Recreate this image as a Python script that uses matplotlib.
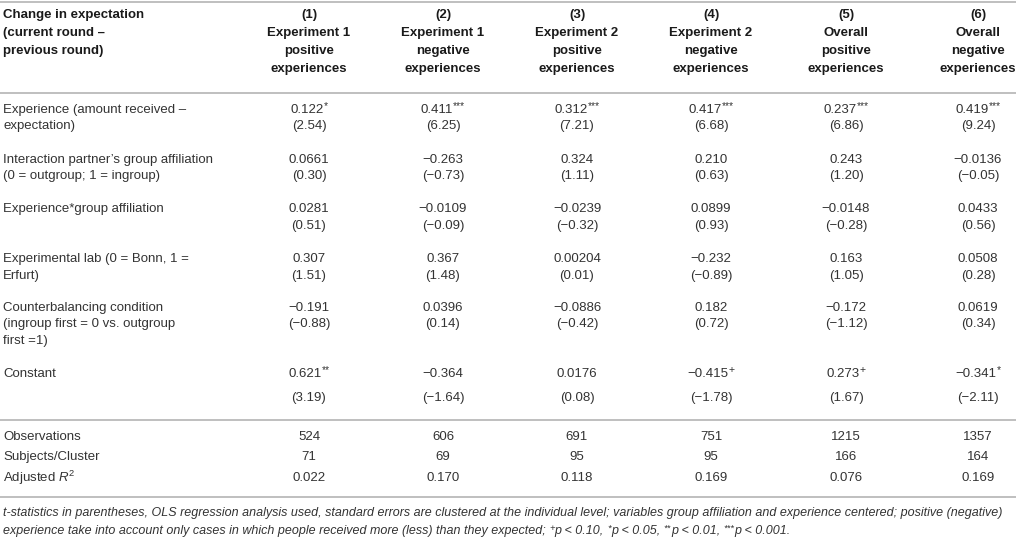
import matplotlib
matplotlib.use("Agg")
import matplotlib.pyplot as plt

plt.rcParams['font.family'] = ['Liberation Sans', 'DejaVu Sans']
plt.rcParams['mathtext.fontset'] = 'custom'
plt.rcParams['mathtext.rm'] = 'Liberation Sans'
plt.rcParams['mathtext.it'] = 'Liberation Sans:italic'
plt.rcParams['mathtext.bf'] = 'Liberation Sans:bold'

# ---------------- data ----------------
corner_header = ["Change in expectation", "(current round \u2013", "previous round)"]
model_numbers = ["(1)", "(2)", "(3)", "(4)", "(5)", "(6)"]
model_samples = ["Experiment 1", "Experiment 1", "Experiment 2", "Experiment 2", "Overall", "Overall"]
model_signs = ["positive", "negative", "positive", "negative", "positive", "negative"]
model_unit = "experiences"

row_labels = [
    ["Experience (amount received \u2013", "expectation)"],
    ["Interaction partner\u2019s group affiliation", "(0 = outgroup; 1 = ingroup)"],
    ["Experience*group affiliation"],
    ["Experimental lab (0 = Bonn, 1 =", "Erfurt)"],
    ["Counterbalancing condition", "(ingroup first = 0 vs. outgroup", "first =1)"],
    ["Constant"],
]

coef_m1 = ["0.122", "0.0661", "0.0281", "0.307", "-0.191", "0.621"]
coef_m2 = ["0.411", "-0.263", "-0.0109", "0.367", "0.0396", "-0.364"]
coef_m3 = ["0.312", "0.324", "-0.0239", "0.00204", "-0.0886", "0.0176"]
coef_m4 = ["0.417", "0.210", "0.0899", "-0.232", "0.182", "-0.415"]
coef_m5 = ["0.237", "0.243", "-0.0148", "0.163", "-0.172", "0.273"]
coef_m6 = ["0.419", "-0.0136", "0.0433", "0.0508", "0.0619", "-0.341"]

stars_m1 = ["*", "", "", "", "", "**"]
stars_m2 = ["***", "", "", "", "", ""]
stars_m3 = ["***", "", "", "", "", ""]
stars_m4 = ["***", "", "", "", "", "+"]
stars_m5 = ["***", "", "", "", "", "+"]
stars_m6 = ["***", "", "", "", "", "*"]

tstat_m1 = ["2.54", "0.30", "0.51", "1.51", "-0.88", "3.19"]
tstat_m2 = ["6.25", "-0.73", "-0.09", "1.48", "0.14", "-1.64"]
tstat_m3 = ["7.21", "1.11", "-0.32", "0.01", "-0.42", "0.08"]
tstat_m4 = ["6.68", "0.63", "0.93", "-0.89", "0.72", "-1.78"]
tstat_m5 = ["6.86", "1.20", "-0.28", "1.05", "-1.12", "1.67"]
tstat_m6 = ["9.24", "-0.05", "0.56", "0.28", "0.34", "-2.11"]

stat_labels = ["Observations", "Subjects/Cluster", "Adjusted $R^{2}$"]
observations = ["524", "606", "691", "751", "1215", "1357"]
subjects = ["71", "69", "95", "95", "166", "164"]
adj_r2 = ["0.022", "0.170", "0.118", "0.169", "0.076", "0.169"]

footnote_line1 = ("t-statistics in parentheses, OLS regression analysis used, standard errors are clustered "
                  "at the individual level; variables group affiliation and experience centered; positive (negative)")
footnote_line2 = [
    ("experience take into account only cases in which people received more (less) than they expected; ", False),
    ("+", True), ("p < 0.10, ", False),
    ("*", True), ("p < 0.05, ", False),
    ("**", True), ("p < 0.01, ", False),
    ("***", True), ("p < 0.001.", False),
]

# ---------------- layout ----------------
W, H = 1016, 545
col_x = [309, 443, 577, 711, 846, 978]
label_x = 3
header_y = [15, 33, 51, 69]
row_y = [110, 160, 209, 259, 308, 374]
line_pitch = 16.5
const_t_offset = 24
stat_y = [437, 457, 478]
rule_y = [2, 93, 420, 497]
foot_y = [513, 531]

FS = 9.5
FOOT_FS = 9.0
body_c = "#333333"
head_c = "#1a1a1a"
rule_c = "#b4b4b4"

fig = plt.figure(figsize=(W / 100, H / 100), dpi=100)
ax = fig.add_axes([0, 0, 1, 1])
ax.set_xlim(0, W)
ax.set_ylim(H, 0)
ax.axis("off")
renderer = fig.canvas.get_renderer()


def minus(s):
    return s.replace("-", "\u2212")


def text_width(s, **kw):
    # robust width incl. leading/trailing spaces
    a = ax.text(0, 0, "X" + s + "X", **kw)
    b = ax.text(0, 0, "XX", **kw)
    w = a.get_window_extent(renderer).width - b.get_window_extent(renderer).width
    a.remove()
    b.remove()
    return w


def draw_runs(x, y, runs, fs, align="left", sup_scale=0.72, sup_rise=4.0, **kw):
    widths = []
    for s, sup in runs:
        widths.append(text_width(s, fontsize=fs * (sup_scale if sup else 1.0), **kw))
    total = sum(widths)
    cx = x - total / 2 if align == "center" else x
    for (s, sup), w in zip(runs, widths):
        size = fs * (sup_scale if sup else 1.0)
        yy = y - sup_rise if sup else y
        ax.text(cx, yy, s, fontsize=size, ha="left", va="center", **kw)
        cx += w


for y in rule_y:
    ax.plot([0, W], [y, y], color=rule_c, lw=1.2, solid_capstyle="butt")

for i, line in enumerate(corner_header):
    ax.text(label_x, header_y[i], line, fontsize=FS, fontweight="bold", color=head_c,
            ha="left", va="center")

for j, x in enumerate(col_x):
    for i, line in enumerate([model_numbers[j], model_samples[j], model_signs[j], model_unit]):
        ax.text(x, header_y[i], line, fontsize=FS, fontweight="bold", color=head_c,
                ha="center", va="center")

coefs = [coef_m1, coef_m2, coef_m3, coef_m4, coef_m5, coef_m6]
stars = [stars_m1, stars_m2, stars_m3, stars_m4, stars_m5, stars_m6]
tstats = [tstat_m1, tstat_m2, tstat_m3, tstat_m4, tstat_m5, tstat_m6]

for r, lab in enumerate(row_labels):
    for k, line in enumerate(lab):
        ax.text(label_x, row_y[r] + k * line_pitch, line, fontsize=FS, color=body_c,
                ha="left", va="center")
    t_off = const_t_offset if r == len(row_labels) - 1 else line_pitch
    for j, x in enumerate(col_x):
        s = minus(coefs[j][r])
        st = stars[j][r]
        if st:
            scale = 0.8 if st == "+" else 0.78
            draw_runs(x, row_y[r], [(s, False), (st, True)], FS, align="center",
                      sup_scale=scale, sup_rise=3.5, color=body_c)
        else:
            ax.text(x, row_y[r], s, fontsize=FS, color=body_c, ha="center", va="center")
        ax.text(x, row_y[r] + t_off, "(" + minus(tstats[j][r]) + ")", fontsize=FS,
                color=body_c, ha="center", va="center")

for i, (lab, vals) in enumerate(zip(stat_labels, [observations, subjects, adj_r2])):
    ax.text(label_x, stat_y[i], lab, fontsize=FS, color=body_c, ha="left", va="center")
    for j, x in enumerate(col_x):
        ax.text(x, stat_y[i], vals[j], fontsize=FS, color=body_c, ha="center", va="center")

ax.text(label_x, foot_y[0], footnote_line1, fontsize=FOOT_FS, color=body_c, style="italic",
        ha="left", va="center")
draw_runs(label_x, foot_y[1], footnote_line2, FOOT_FS, align="left", sup_scale=0.75,
          sup_rise=3.0, color=body_c, style="italic")

fig.savefig("out.png", dpi=100)
